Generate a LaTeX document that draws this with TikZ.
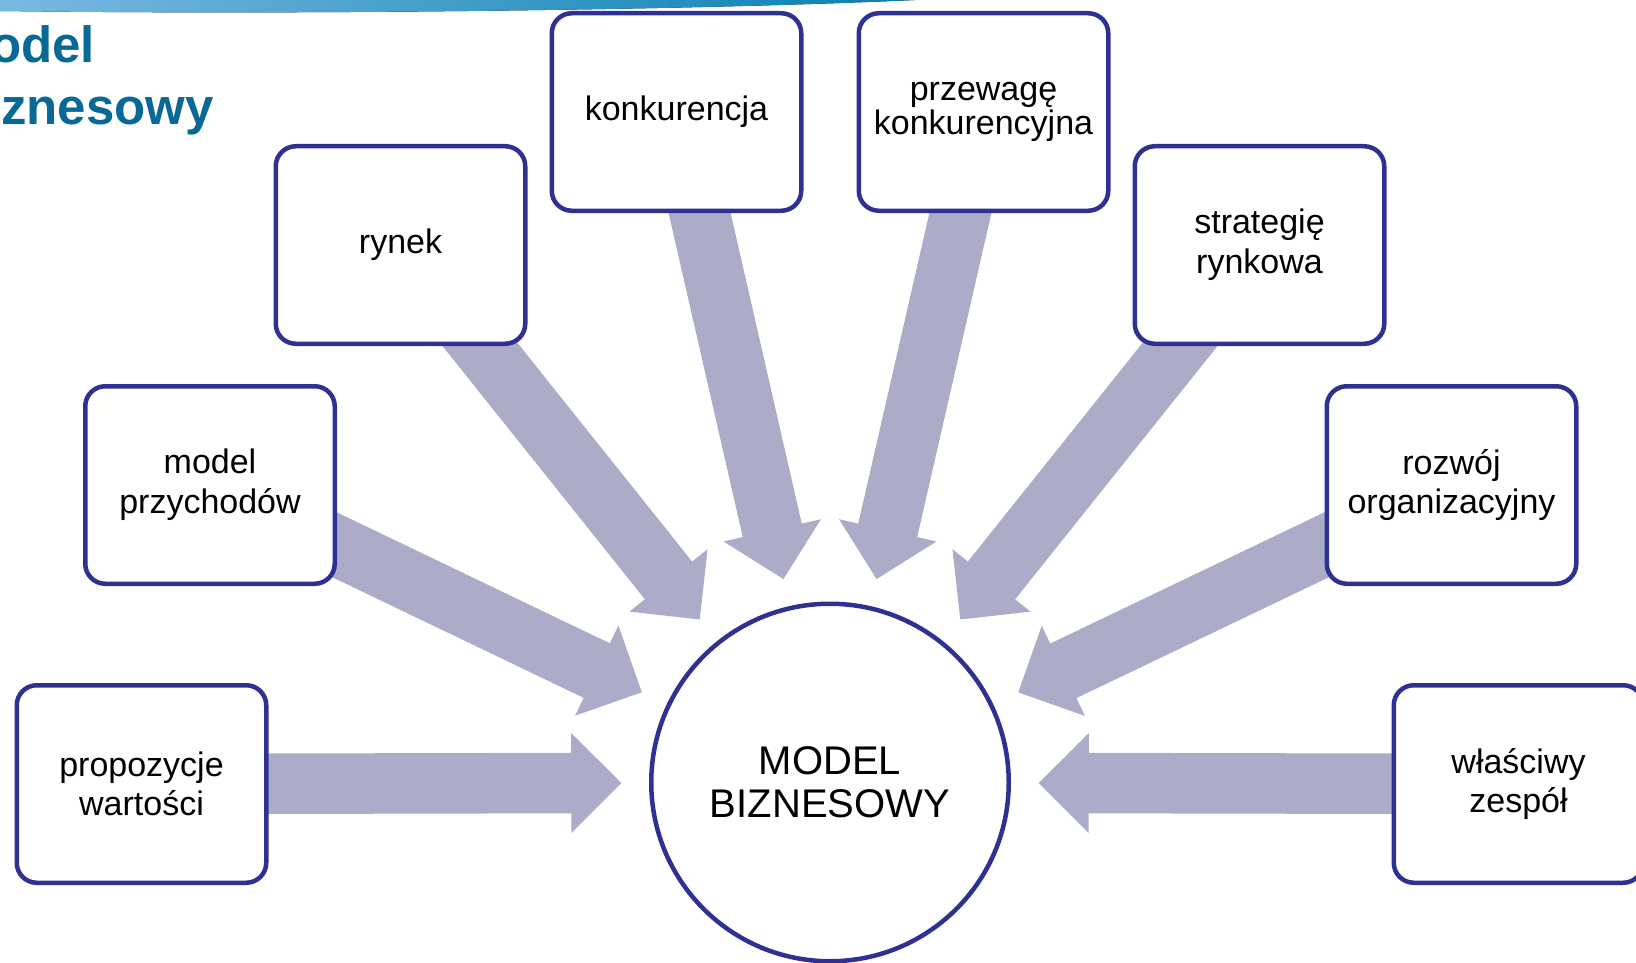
\documentclass[tikz,border=0pt]{standalone}
\usepackage{fontspec}
\setmainfont{Liberation Sans}
\usetikzlibrary{calc}
\pgfdeclarelayer{background}
\pgfsetlayers{background,main}
\definecolor{boxline}{RGB}{46,49,146}
\definecolor{arrowfill}{RGB}{172,172,201}
\definecolor{titleblue}{RGB}{8,104,150}
\definecolor{bandA}{RGB}{120,185,226}
\definecolor{bandB}{RGB}{10,128,176}
\newcommand{\feedarrow}[1]{%
  \coordinate (T#1) at ($(mb.center)!208.7pt!(#1.center)$);
  \coordinate (H#1) at ($(mb.center)!258.7pt!(#1.center)$);
  \fill[flow] ($(#1.center)!30.25pt!-90:(mb.center)$)
    -- ($(H#1)!30.25pt!90:(#1.center)$)
    -- ($(H#1)!50pt!90:(#1.center)$)
    -- (T#1)
    -- ($(H#1)!50pt!-90:(#1.center)$)
    -- ($(H#1)!30.25pt!-90:(#1.center)$)
    -- ($(#1.center)!30.25pt!90:(mb.center)$) -- cycle;}
\begin{document}
\begin{tikzpicture}[x=1pt,y=-1pt,
  box/.style={draw=boxline, line width=4.5pt, rounded corners=20pt, fill=white,
    minimum width=249.5pt, minimum height=197.5pt, inner sep=0pt, align=center,
    font=\fontsize{34}{39.6}\selectfont},
  hub/.style={circle, draw=boxline, line width=4.5pt, fill=white,
    minimum size=357.5pt, inner sep=0pt, align=center,
    font=\fontsize{40}{43}\selectfont},
  flow/.style={fill=arrowfill},
  titletext/.style={anchor=base west, inner sep=0pt, text=titleblue,
    font=\fontsize{51}{63}\selectfont\bfseries}]
\useasboundingbox (0,0) rectangle (1636,963);
\clip (0,0) rectangle (1636,963);
% top band
\fill[left color=bandA, right color=bandB] (0,0) -- (0,11)
  .. controls (300,15) and (700,10) .. (915,0) -- cycle;
% title
\node[titletext] (t1) at (-52.5,62.6) {Model};
\node[titletext] (t2) at (-44.3,125) {biznesowy};
% boxes
\node[box] (b1) at (141.5,784) {propozycje\\wartości};
\node[box] (b2) at (210,485) {model\\przychodów};
\node[box] (b3) at (400.5,245) {rynek};
\node[box] (b4) at (676.5,112) {konkurencja};
\node[box, font=\fontsize{34}{34.5}\selectfont] (b5) at (983.5,112) {przewagę\\konkurencyjna};
\node[box] (b6) at (1259.5,245) {strategię\\rynkowa};
\node[box] (b7) at (1451.5,485) {rozwój\\organizacyjny};
\node[box] (b8) at (1518.5,784) {właściwy\\zespół};
\node[hub] (mb) at (830,782.5) {MODEL\\BIZNESOWY};
\begin{pgfonlayer}{background}
\feedarrow{b1}
\feedarrow{b2}
\feedarrow{b3}
\feedarrow{b4}
\feedarrow{b5}
\feedarrow{b6}
\feedarrow{b7}
\feedarrow{b8}
\end{pgfonlayer}
\end{tikzpicture}
\end{document}
